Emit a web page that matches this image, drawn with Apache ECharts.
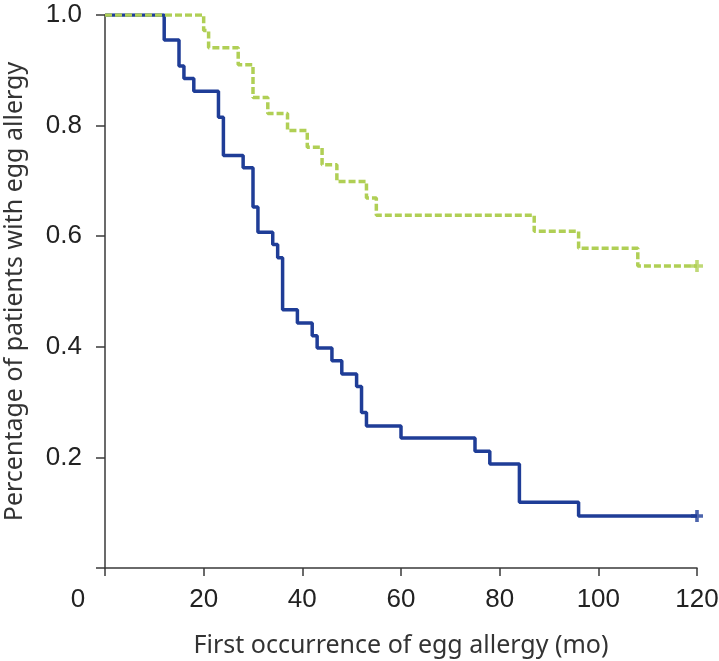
<!DOCTYPE html>
<html><head><meta charset="utf-8">
<script src="https://cdn.jsdelivr.net/npm/echarts@6/dist/echarts.min.js"></script>
<style>html,body{margin:0;padding:0;background:#fff}#c{width:719px;height:661px}</style>
</head><body><div id="c"></div>
<script>
// Kaplan-Meier steps (months, proportion)
const blueTimes  = [0, 12, 15, 16, 18, 23, 24, 28, 30, 31, 34, 35, 36, 39, 42, 43, 46, 48, 51, 52, 53, 60, 75, 78, 84, 96, 120];
const blueValues = [1.0, 0.955, 0.908, 0.885, 0.862, 0.815, 0.746, 0.724, 0.653, 0.607, 0.585, 0.561, 0.467, 0.443, 0.420, 0.398, 0.375, 0.351, 0.328, 0.281, 0.257, 0.235, 0.211, 0.188, 0.119, 0.094, 0.094];
const greenTimes  = [0, 20, 21, 27, 30, 33, 37, 41, 44, 47, 53, 55, 87, 96, 108, 120];
const greenValues = [1.0, 0.972, 0.941, 0.910, 0.851, 0.822, 0.791, 0.761, 0.729, 0.699, 0.669, 0.638, 0.609, 0.578, 0.546, 0.546];
const xTicks = [0, 20, 40, 60, 80, 100, 120];
const yTicks = [0, 0.2, 0.4, 0.6, 0.8, 1.0];

const pair = (ts, vs) => ts.map((t, i) => [t, vs[i]]);
const plus = 'path://M3.5,0h3v3.5h3.5v3h-3.5v3.5h-3v-3.5h-3.5v-3h3.5z';

const chart = echarts.init(document.getElementById('c'), null, {renderer: 'canvas'});
const axisCol = '#3a3a3a';
chart.setOption({
  animation: false,
  grid: {left: 105, right: 22, top: 15, bottom: 93, containLabel: false, outerBoundsMode: 'none'},
  xAxis: {
    type: 'value', min: 0, max: 120, interval: 20,
    name: 'First occurrence of egg allergy (mo)', nameLocation: 'middle', nameGap: 65,
    nameTextStyle: {fontFamily: 'Noto Sans', fontSize: 25, color: '#333'},
    axisLine: {show: true, onZero: false, lineStyle: {color: axisCol, width: 1.5}},
    axisTick: {show: true, length: 8, lineStyle: {color: axisCol, width: 1.5}},
    splitLine: {show: false},
    axisLabel: {
      margin: 19, fontFamily: 'Liberation Sans', fontSize: 26, color: '#222',
      formatter: v => v === 0 ? '{z|0}' : String(v),
      rich: {z: {fontFamily: 'Liberation Sans', fontSize: 26, color: '#222', padding: [0, 54, 0, 0]}}
    }
  },
  yAxis: {
    type: 'value', min: 0, max: 1, interval: 0.2,
    name: 'Percentage of patients with egg allergy', nameLocation: 'middle', nameGap: 78,
    nameTextStyle: {fontFamily: 'Noto Sans', fontSize: 25, color: '#333'},
    axisLine: {show: true, lineStyle: {color: axisCol, width: 1.5}},
    axisTick: {show: true, length: 9, lineStyle: {color: axisCol, width: 1.5}},
    splitLine: {show: false},
    axisLabel: {
      margin: 23, fontFamily: 'Liberation Sans', fontSize: 26, color: '#222',
      formatter: v => v === 0 ? '' : v.toFixed(1)
    }
  },
  series: [
    {
      type: 'line', step: 'end', symbol: 'none', data: pair(blueTimes, blueValues),
      lineStyle: {color: '#1f3d97', width: 3.5}, z: 2
    },
    {
      type: 'line', step: 'end', symbol: 'none', data: pair(greenTimes, greenValues),
      lineStyle: {color: '#b0cf55', width: 3.5, type: [7, 3]}, z: 3
    },
    {
      type: 'scatter', symbol: plus, symbolSize: 12, z: 4,
      data: [[blueTimes[blueTimes.length - 1], blueValues[blueValues.length - 1]]],
      itemStyle: {color: '#1f3d97'}
    },
    {
      type: 'scatter', symbol: plus, symbolSize: 12, z: 4,
      data: [[greenTimes[greenTimes.length - 1], greenValues[greenValues.length - 1]]],
      itemStyle: {color: '#b0cf55'}
    }
  ]
});
</script></body></html>
